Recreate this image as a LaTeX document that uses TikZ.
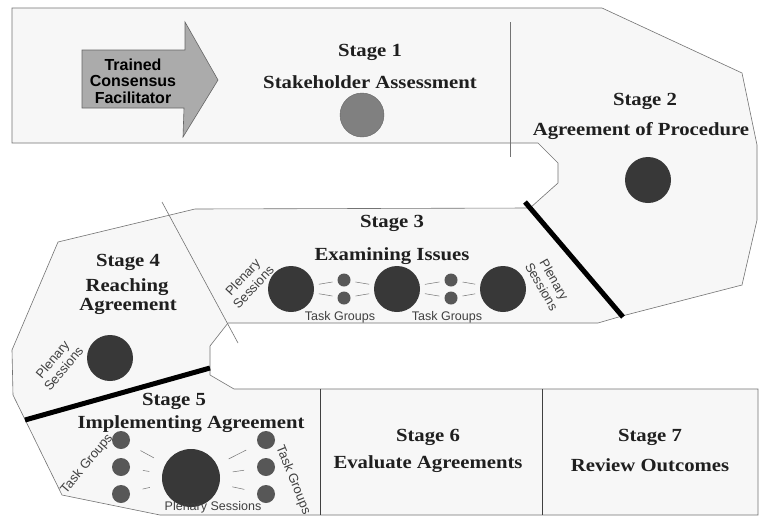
\documentclass[tikz,border=0pt]{standalone}
\usepackage{fontspec}
\setmainfont{Liberation Serif}[FakeStretch=1.12]
\newfontfamily\arialf{Liberation Sans}
\newfontfamily\arialbf{Liberation Sans Bold}
\begin{document}
\begin{tikzpicture}[x=1pt,y=-1pt,
  stitle/.style={font=\fontsize{18.5}{21}\selectfont\bfseries, text=black!88, align=center, inner sep=0pt},
  smalltxt/.style={font=\arialf\fontsize{12.5}{14}\selectfont, text=black!75, inner sep=0pt, align=center},
  rottxt/.style={font=\arialf\fontsize{13}{14.5}\selectfont, text=black!75, inner sep=0pt, align=center},
  bigc/.style={circle, fill=black!78, minimum size=46pt, inner sep=0pt},
  hugec/.style={circle, fill=black!78, minimum size=58pt, inner sep=0pt},
  smallc/.style={circle, fill=black!66, minimum size=13pt, inner sep=0pt},
  midc/.style={circle, fill=black!66, minimum size=18pt, inner sep=0pt},
  link/.style={draw=black!55, line width=0.5pt},
  thinsep/.style={draw=black!55, line width=0.6pt},
  darksep/.style={draw=black!75, line width=0.8pt},
  thick bar/.style={draw=black, line width=5pt}
]
\useasboundingbox[fill=white] (0,0) rectangle (760,517);

% snake outline
\path[fill=black!3, draw=black!55, line width=0.6pt]
  (12,8) -- (602,8) -- (742,73) -- (757,145) -- (757,220) -- (742,285)
  -- (622,316) -- (598,323) -- (228,323) -- (210,346) -- (210,375) -- (234,389)
  -- (758,389) -- (758,515) -- (160,515) -- (62,495) -- (13,395) -- (12,350)
  -- (58,242) -- (195,209) -- (530,208) -- (558,183) -- (558,163) -- (538,143)
  -- (12,143) -- cycle;

% dividers
\coordinate (d12a) at (510,22);  \coordinate (d12b) at (510,157);
\draw[thinsep] (d12a) -- (d12b);
\coordinate (d34a) at (162,202); \coordinate (d34b) at (238,343);
\draw[thinsep] (d34a) -- (d34b);
\coordinate (d56a) at (320,389); \coordinate (d56b) at (320,515);
\draw[darksep] (d56a) -- (d56b);
\coordinate (d67a) at (542,389); \coordinate (d67b) at (542,515);
\draw[darksep] (d67a) -- (d67b);
\coordinate (b23a) at (525,202); \coordinate (b23b) at (623,317);
\draw[thick bar] (b23a) -- (b23b);
\coordinate (b45a) at (25,420); \coordinate (b45b) at (210,368);
\draw[thick bar] (b45a) -- (b45b);

% arrow
\path[fill=black!33, draw=black!60, line width=0.6pt]
  (82,50) -- (185,50) -- (185,22) -- (218,80) -- (183,137) -- (184,108) -- (82,108) -- cycle;
\node[font=\arialbf\fontsize{16}{16.5}\selectfont, text=black, align=center, inner sep=0pt]
  (arrowtxt) at (133,81) {Trained\\Consensus\\Facilitator};

% Stage 1
\node[stitle] (s1a) at (370,52) {Stage 1};
\node[stitle] (s1b) at (370,82) {Stakeholder Assessment};
\node[circle, fill=black!50, draw=black!60, minimum size=44pt, inner sep=0pt] (c1) at (362,115) {};

% Stage 2
\node[stitle] (s2a) at (645,101) {Stage 2};
\node[stitle] (s2b) at (641,131) {Agreement of Procedure};
\node[bigc] (c2) at (648,180) {};

% Stage 3
\node[stitle] (s3a) at (392,223) {Stage 3};
\node[stitle] (s3b) at (392,256) {Examining Issues};
\node[bigc] (p1) at (291,289) {};
\node[bigc] (p2) at (397,289) {};
\node[bigc] (p3) at (503,289) {};
\node[smallc] (t1) at (344,280) {};
\node[smallc] (t2) at (344,298) {};
\node[smallc] (t3) at (451,280) {};
\node[smallc] (t4) at (451,298) {};
\foreach \a/\b in {p1/t1,p1/t2,t1/p2,t2/p2,p2/t3,p2/t4,t3/p3,t4/p3}
  \draw[link, shorten <=5pt, shorten >=5pt] (\a) -- (\b);
\node[smalltxt] (tg1) at (340,317) {Task Groups};
\node[smalltxt] (tg2) at (447,317) {Task Groups};
\node[rottxt, rotate=47] (pl1) at (248,282) {Plenary\\Sessions};
\node[rottxt, rotate=-60] (pl2) at (548,283) {Plenary\\Sessions};

% Stage 4
\node[stitle] (s4a) at (128,262) {Stage 4};
\node[stitle] (s4b) at (127,287) {Reaching};
\node[stitle] (s4c) at (128,306) {Agreement};
\node[bigc] (c4) at (110,358) {};
\node[rottxt, rotate=50] (pl4) at (58,364) {Plenary\\Sessions};

% Stage 5
\node[stitle] (s5a) at (174,401) {Stage 5};
\node[stitle] (s5b) at (191,424) {Implementing Agreement};
\node[hugec] (c5) at (191,478) {};
\node[midc] (l1) at (121,440) {};
\node[midc] (l2) at (121,467) {};
\node[midc] (l3) at (121,494) {};
\node[midc] (r1) at (266,440) {};
\node[midc] (r2) at (266,467) {};
\node[midc] (r3) at (266,494) {};
\foreach \a in {l1,l2,l3,r1,r2,r3}
  \draw[link, shorten <=13pt, shorten >=13pt] (\a) -- (c5);
\node[rottxt, rotate=50] (tg5l) at (87,464) {Task Groups};
\node[rottxt, rotate=-68] (tg5r) at (293,480) {Task Groups};
\node[smalltxt] (pl5) at (213,507) {Plenary Sessions};

% Stage 6 and 7
\node[stitle] (s6a) at (428,437) {Stage 6};
\node[stitle] (s6b) at (428,464) {Evaluate Agreements};
\node[stitle] (s7a) at (650,437) {Stage 7};
\node[stitle] (s7b) at (650,465) {Review Outcomes};
\end{tikzpicture}
\end{document}
